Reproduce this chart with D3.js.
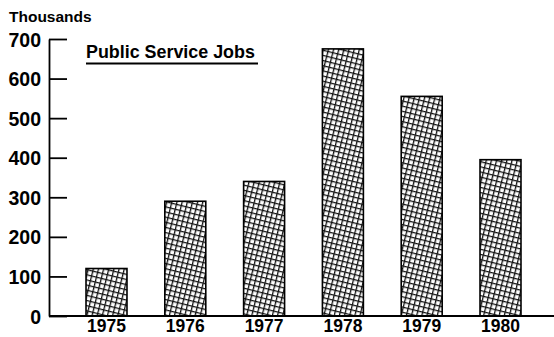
<!DOCTYPE html>
<html><head><meta charset="utf-8">
<script src="https://cdn.jsdelivr.net/npm/d3@7"></script>
<style>
body{margin:0;background:#fff;}
text{font-family:"Liberation Sans",Arial,Helvetica,sans-serif;font-weight:bold;fill:#000;}
</style></head>
<body><svg id="c" width="554" height="337"></svg>
<script>
const years = ["1975","1976","1977","1978","1979","1980"];
const jobs = [120, 290, 340, 675, 555, 395];
const yTicks = [0,100,200,300,400,500,600,700];
const unitLabel = "Thousands";
const chartTitle = "Public Service Jobs";

const svg = d3.select("#c");
const defs = svg.append("defs");
const pat = defs.append("pattern").attr("id","hatch").attr("patternUnits","userSpaceOnUse")
  .attr("width",5).attr("height",5).attr("patternTransform","rotate(14)");
pat.append("rect").attr("width",5).attr("height",5).attr("fill","#fff");
pat.append("path").attr("d","M0,0.6H5M0.6,0V5").attr("stroke","#111").attr("stroke-width",1.4);

const y = d3.scaleLinear().domain([0,700]).range([316,39]);
const x = d3.scaleBand().domain(years).range([67.1,539.9]).paddingInner(0.48).paddingOuter(0.24);

// y axis
const ya = svg.append("g").attr("transform","translate(49,0)")
  .call(d3.axisLeft(y).tickValues(yTicks).tickSizeInner(-18).tickSizeOuter(0).tickPadding(8));
ya.select(".domain").attr("stroke","#000").attr("stroke-width",1.8);
ya.selectAll(".tick line").attr("stroke","#000").attr("stroke-width",1.8);
ya.selectAll(".tick text").style("font-size","19.5px").attr("font-family",null).attr("dy","0.36em");

// bars
svg.append("g").selectAll("rect").data(years).join("rect")
  .attr("x",d=>x(d)).attr("width",x.bandwidth())
  .attr("y",(d,i)=>y(jobs[i])).attr("height",(d,i)=>y(0)-y(jobs[i]))
  .attr("fill","url(#hatch)").attr("stroke","#000").attr("stroke-width",1.6);

// x axis
const xa = svg.append("g").attr("transform","translate(0,316)")
  .call(d3.axisBottom(x).tickSize(0).tickPadding(4));
xa.select(".domain").remove();
xa.selectAll(".tick text").style("font-size","17.5px").attr("font-family",null);
svg.append("line").attr("x1",49).attr("x2",554).attr("y1",316).attr("y2",316)
  .attr("stroke","#000").attr("stroke-width",1.8);

// labels
svg.append("text").attr("x",9).attr("y",22).style("font-size","15.5px").text(unitLabel);
const t = svg.append("text").attr("x",86).attr("y",58).style("font-size","17px").text(chartTitle);
const w = t.node().getComputedTextLength();
t.style("font-size",(17*169/w)+"px");
svg.append("line").attr("x1",86).attr("x2",258).attr("y1",63.5).attr("y2",63.5)
  .attr("stroke","#000").attr("stroke-width",2);
</script></body></html>
